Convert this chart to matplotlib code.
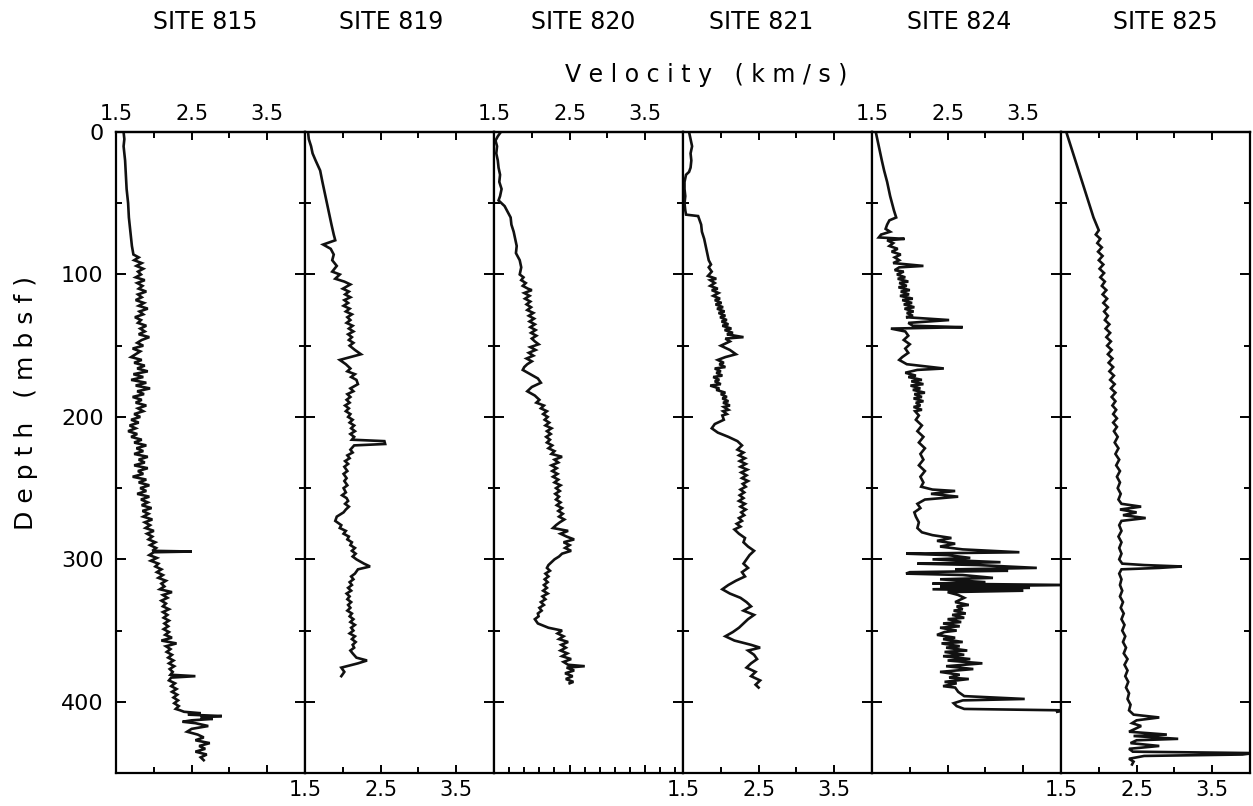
import matplotlib
matplotlib.use("Agg")
import matplotlib.pyplot as plt
from matplotlib.ticker import FixedLocator, NullFormatter

plt.rcParams['font.family'] = ['DejaVu Sans']

sites = ["SITE 815", "SITE 819", "SITE 820", "SITE 821", "SITE 824", "SITE 825"]

# ---- SITE 815 ----
d815 = [0, 5, 10, 20, 30, 40, 50, 60, 70, 80, 86,
        88, 90, 92, 94, 96, 98, 100, 102, 104, 106, 108, 110, 112, 114, 116, 118, 120, 122, 124, 126, 128, 130,
        132, 134, 136, 138, 140, 142, 144, 146, 148, 150, 152, 154, 156, 158, 160, 162, 164, 166, 168, 170, 172,
        174, 176, 178, 180, 182, 184, 186, 188, 190, 192, 194, 196, 198, 200, 202, 204, 206, 208, 210, 212, 214,
        216, 218, 220, 222, 224, 226, 228, 230, 232, 234, 236, 238, 240, 242, 244, 246, 248, 250, 252, 254, 256,
        258, 260, 262, 264, 266, 268, 270, 272, 274, 276, 278, 280, 282, 284, 286, 288, 290, 292,
        294, 294.5, 295, 297, 299, 301, 303, 305, 307, 309, 311, 313, 315, 317, 319, 321, 323, 325, 327, 329, 331,
        333, 335, 337, 339, 341, 343, 345, 347, 349, 351, 353, 355, 357, 359, 361, 363, 365, 367, 369, 371, 373,
        375, 377, 379, 381, 382, 383, 385, 387, 389, 391, 393, 395, 397, 399, 401, 403, 405, 406,
        407, 408, 409, 410, 411, 412, 413, 414, 415, 417, 419, 421, 423, 425, 427, 429, 431, 433, 435, 437, 439,
        441]
v815 = [1.60, 1.61, 1.60, 1.62, 1.63, 1.64, 1.66, 1.67, 1.69, 1.71, 1.73,
        1.80, 1.74, 1.84, 1.77, 1.86, 1.79, 1.83, 1.76, 1.88, 1.78, 1.85, 1.80, 1.90, 1.79, 1.84, 1.76, 1.87, 1.80,
        1.92, 1.81, 1.86, 1.75, 1.83, 1.79, 1.90, 1.82, 1.88, 1.80, 1.94, 1.84, 1.78, 1.86, 1.72, 1.82, 1.76, 1.70,
        1.84, 1.74, 1.88, 1.78, 1.92, 1.73, 1.86, 1.70, 1.90, 1.76, 1.95, 1.78, 1.87, 1.72, 1.84, 1.76, 1.90, 1.79,
        1.86, 1.74, 1.82, 1.70, 1.80, 1.68, 1.76, 1.66, 1.78, 1.70, 1.84, 1.74, 1.90, 1.77, 1.86, 1.74, 1.92, 1.80,
        1.88, 1.74, 1.92, 1.79, 1.86, 1.72, 1.90, 1.80, 1.94, 1.82, 1.90, 1.78, 1.94, 1.83, 1.92, 1.84, 1.97, 1.85,
        1.93, 1.86, 1.98, 1.88, 1.95, 1.89, 2.00, 1.91, 1.98, 1.93, 2.02, 1.95, 2.03,
        1.98, 2.50, 2.00, 1.94, 2.04, 1.96, 2.06, 2.02, 2.10, 2.04, 2.12, 2.06, 2.16, 2.10, 2.14, 2.08, 2.24, 2.12,
        2.18, 2.10, 2.16, 2.12, 2.20, 2.12, 2.18, 2.13, 2.20, 2.14, 2.19, 2.13, 2.20, 2.15, 2.24, 2.10, 2.30, 2.16,
        2.22, 2.17, 2.24, 2.19, 2.26, 2.20, 2.27, 2.21, 2.25, 2.22, 2.55, 2.23, 2.20, 2.28, 2.23, 2.30, 2.24, 2.31,
        2.26, 2.32, 2.27, 2.33, 2.29, 2.35,
        2.40, 2.62, 2.45, 2.90, 2.62, 2.78, 2.50, 2.38, 2.55, 2.72, 2.50, 2.44, 2.58, 2.66, 2.55, 2.74, 2.60, 2.68,
        2.55, 2.70, 2.62, 2.66]

# ---- SITE 819 ----
d819 = [0, 5, 10, 15, 20, 27, 35, 45, 55, 65, 72, 76, 79, 82, 86, 90, 94, 98, 100, 103, 105, 107, 110, 112, 114,
        116, 118, 120, 122, 124, 126, 128, 130, 132, 134, 136, 138, 140, 142, 144, 146, 148, 150, 153, 156, 158,
        160, 163, 166, 168, 170, 172, 174, 177, 180, 182, 184, 186, 188, 190, 192, 194, 196, 198, 200, 202, 204,
        206, 208, 210, 212, 214, 216, 217, 219, 220, 223, 225, 227, 229, 231, 233, 235, 238, 240, 243, 245, 248,
        250, 253, 255, 257, 259, 261, 263, 265, 267, 270, 273, 276, 278, 280, 282, 284, 286, 288, 290, 292, 294,
        296, 298, 300, 303, 305, 307, 310, 312, 314, 316, 318, 320, 322, 324, 326, 328, 330, 332, 334, 336, 338,
        340, 342, 344, 346, 348, 350, 352, 354, 356, 358, 360, 362, 364, 366, 369, 371, 373, 376, 379, 382]
v819 = [1.54, 1.55, 1.58, 1.60, 1.64, 1.70, 1.73, 1.77, 1.81, 1.85, 1.88, 1.90, 1.74, 1.84, 1.88, 1.86, 1.92, 1.86,
        1.96, 1.90, 2.02, 2.10, 2.00, 2.08, 2.03, 2.10, 2.02, 2.07, 2.01, 2.09, 2.04, 2.12, 2.06, 2.10, 2.05, 2.13,
        2.08, 2.14, 2.07, 2.12, 2.08, 2.14, 2.09, 2.16, 2.24, 2.10, 1.96, 2.04, 2.10, 2.06, 2.16, 2.11, 2.18, 2.20,
        2.10, 2.14, 2.06, 2.10, 2.05, 2.09, 2.03, 2.08, 2.04, 2.10, 2.07, 2.13, 2.09, 2.15, 2.11, 2.16, 2.10, 2.15,
        2.12, 2.55, 2.56, 2.15, 2.10, 2.13, 2.06, 2.09, 2.03, 2.07, 2.02, 2.06, 2.01, 2.05, 2.02, 2.06, 2.01, 2.04,
        1.99, 2.05, 2.07, 2.03, 2.08, 2.04, 2.01, 1.92, 1.90, 1.98, 1.96, 2.04, 2.01, 2.08, 2.06, 2.12, 2.10, 2.16,
        2.12, 2.17, 2.13, 2.18, 2.28, 2.36, 2.20, 2.16, 2.11, 2.14, 2.09, 2.12, 2.07, 2.11, 2.05, 2.09, 2.06, 2.11,
        2.07, 2.10, 2.06, 2.12, 2.09, 2.14, 2.10, 2.16, 2.11, 2.14, 2.09, 2.16, 2.12, 2.17, 2.13, 2.15, 2.10, 2.13,
        2.18, 2.32, 2.20, 1.98, 2.02, 1.98]

# ---- SITE 820 ----
d820 = [0, 3, 6, 10, 15, 20, 25, 30, 35, 40, 45, 48, 52, 56, 60, 65, 70, 75, 80, 85, 90, 95, 100, 102, 104, 106,
        108, 110, 111, 113, 115, 117, 119, 121, 123, 125, 127, 129, 131, 133, 135, 137, 139, 141, 143, 145, 147,
        149, 151, 153, 155, 157, 159, 161, 163, 165, 167, 170, 173, 176, 179, 182, 185, 188, 190, 192, 194, 196,
        198, 200, 202, 204, 206, 208, 210, 212, 214, 216, 218, 220, 222, 224, 226, 228, 230, 232, 234, 236, 238,
        240, 242, 244, 246, 248, 250, 252, 254, 256, 258, 260, 262, 264, 266, 268, 270, 272, 274, 276, 278, 280,
        282, 284, 286, 288, 290, 292, 294, 296, 298, 300, 302, 304, 306, 308, 310, 312, 314, 316, 318, 320, 322,
        324, 326, 328, 330, 332, 334, 336, 338, 340, 342, 345, 348, 350, 352, 354, 356, 358, 360, 362, 364, 366,
        368, 370, 372, 374, 375, 376, 378, 380, 382, 384, 386, 387]
v820 = [1.59, 1.55, 1.52, 1.54, 1.53, 1.55, 1.56, 1.58, 1.57, 1.60, 1.58, 1.56, 1.64, 1.68, 1.72, 1.73, 1.76, 1.78,
        1.80, 1.79, 1.84, 1.86, 1.84, 1.89, 1.86, 1.92, 1.88, 1.95, 2.00, 1.90, 1.97, 1.91, 1.98, 1.93, 1.99, 1.94,
        2.02, 1.96, 2.03, 1.97, 2.04, 1.98, 2.05, 1.99, 2.06, 2.00, 2.04, 2.09, 1.98, 2.05, 1.96, 2.02, 1.93, 2.00,
        1.94, 1.90, 1.88, 1.98, 2.08, 2.12, 2.00, 1.94, 2.04, 2.10, 2.06, 2.16, 2.12, 2.20, 2.15, 2.21, 2.17, 2.23,
        2.18, 2.26, 2.20, 2.25, 2.19, 2.24, 2.20, 2.27, 2.22, 2.30, 2.26, 2.40, 2.30, 2.35, 2.26, 2.33, 2.27, 2.34,
        2.28, 2.35, 2.30, 2.38, 2.32, 2.37, 2.31, 2.36, 2.32, 2.38, 2.33, 2.40, 2.35, 2.41, 2.36, 2.43, 2.37, 2.32,
        2.28, 2.48, 2.38, 2.46, 2.56, 2.42, 2.50, 2.44, 2.52, 2.40, 2.36, 2.30, 2.26, 2.22, 2.20, 2.24, 2.18, 2.22,
        2.17, 2.21, 2.16, 2.20, 2.15, 2.21, 2.14, 2.18, 2.12, 2.16, 2.10, 2.13, 2.08, 2.09, 2.04, 2.08,
        2.22, 2.40, 2.34, 2.42, 2.36, 2.48, 2.39, 2.45, 2.38, 2.47, 2.40, 2.52, 2.42, 2.48, 2.70, 2.46, 2.56, 2.44,
        2.54, 2.45, 2.55, 2.50]

# ---- SITE 821 ----
d821 = [0, 5, 10, 15, 20, 25, 28, 30, 35, 40, 45, 50, 55, 58, 59, 62, 65, 70, 75, 80, 85, 90, 93, 95, 98, 101,
        103, 104, 106, 108, 110, 111, 113, 115, 117, 118, 120, 121, 123, 124, 126, 127, 129, 130, 132, 133, 135,
        136, 138, 139, 141, 142, 144, 145, 147, 150, 153, 156, 158, 160, 162, 163, 165, 166, 168, 169, 171, 172,
        174, 175, 177, 178, 180, 181, 183, 184, 186, 187, 189, 190, 192, 193, 195, 196, 198, 199, 202, 205, 208,
        211, 214, 217, 220, 223, 225, 227, 229, 231, 233, 235, 237, 239, 241, 243, 245, 247, 249, 251, 253, 255,
        257, 259, 261, 263, 265, 267, 269, 271, 273, 275, 277, 279, 282, 285, 288, 291, 294, 297, 300, 303, 306,
        309, 312, 315, 318, 321, 324, 327, 330, 333, 336, 339, 342, 345, 348, 351, 354, 357, 360, 362, 364, 367,
        370, 373, 376, 379, 382, 385, 388, 390]
v821 = [1.58, 1.60, 1.62, 1.60, 1.61, 1.60, 1.58, 1.54, 1.52, 1.52, 1.53, 1.52, 1.53, 1.54, 1.70, 1.72, 1.74, 1.75,
        1.78, 1.80, 1.82, 1.84, 1.87, 1.84, 1.88, 1.83, 1.94, 1.86, 1.92, 1.86, 1.96, 1.88, 1.97, 1.90, 1.99, 1.92,
        2.01, 1.93, 2.03, 1.95, 2.05, 1.97, 2.06, 1.99, 2.08, 2.01, 2.10, 2.02, 2.14, 2.05, 2.16, 2.08, 2.30, 2.06,
        2.12, 2.00, 2.12, 2.20, 2.06, 1.96, 2.04, 1.98, 2.06, 1.92, 2.00, 1.94, 2.02, 1.90, 1.98, 1.92, 2.00, 1.86,
        1.98, 1.94, 2.06, 2.00, 2.08, 2.02, 2.10, 2.03, 2.12, 2.04, 2.10, 2.03, 2.08, 2.02, 2.04, 1.92, 1.88, 1.96,
        2.10, 2.22, 2.28, 2.22, 2.30, 2.24, 2.32, 2.25, 2.33, 2.26, 2.35, 2.27, 2.34, 2.28, 2.36, 2.29, 2.33, 2.26,
        2.31, 2.25, 2.30, 2.24, 2.32, 2.26, 2.33, 2.27, 2.31, 2.24, 2.28, 2.21, 2.26, 2.18, 2.24, 2.32, 2.30, 2.36,
        2.44, 2.38, 2.34, 2.30, 2.36, 2.28, 2.32, 2.20, 2.10, 2.02, 2.12, 2.26, 2.34, 2.40, 2.30, 2.44, 2.36, 2.30,
        2.24, 2.16, 2.06, 2.18, 2.40, 2.52, 2.36, 2.44, 2.48, 2.40, 2.34, 2.46, 2.40, 2.52, 2.46, 2.50]

# ---- SITE 824 ----
d824 = [0, 5, 10, 15, 20, 27, 35, 45, 55, 60, 62, 65, 68, 70, 72, 74, 75, 76, 78, 80, 82, 84, 86, 88, 90, 92, 94,
        95, 97, 98, 100, 102, 103, 105, 106, 108, 109, 111, 112, 114, 115, 117, 118, 120, 121, 123, 124, 126,
        127, 129, 130, 132, 134, 136, 137, 138, 140, 143, 146, 149, 152, 155, 158, 160, 163, 166, 167, 169, 171,
        172, 174, 175, 177, 178, 180, 181, 183, 184, 186, 187, 189, 190, 192, 193, 195, 196, 199, 202, 206, 210,
        214, 218, 222, 226, 230, 234, 238, 242, 246, 249, 251, 252, 254, 256, 258, 261, 264, 267, 270, 274, 278,
        281, 283, 285, 287, 289, 291, 293, 295, 296, 297, 299, 300, 302, 303, 304, 306, 307, 308, 309, 310, 311,
        313, 314, 316, 317, 318, 319, 320, 321, 322, 323, 325, 327, 330, 332, 333, 335, 336, 338, 339, 341, 342,
        344, 345, 347, 348, 350, 351, 353, 355, 356, 358, 359, 361, 362, 364, 365, 367, 368, 370, 371, 373, 375,
        377, 379, 381, 383, 384, 386, 387, 389, 390, 393, 396, 398, 399, 401, 403, 405, 406, 407]
v824 = [1.55, 1.57, 1.59, 1.61, 1.63, 1.66, 1.70, 1.74, 1.79, 1.82, 1.73, 1.70, 1.68, 1.74, 1.62, 1.59, 1.93, 1.70,
        1.78, 1.73, 1.84, 1.76, 1.88, 1.80, 1.86, 1.78, 2.18, 1.86, 1.80, 1.92, 1.83, 1.94, 1.84, 1.98, 1.86, 1.96,
        1.85, 2.00, 1.88, 1.99, 1.87, 2.04, 1.90, 2.03, 1.92, 2.06, 1.93, 2.05, 1.96, 2.04, 1.95, 2.52, 1.98, 2.04,
        2.70, 1.75, 1.94, 1.98, 1.92, 2.00, 1.94, 1.98, 1.90, 1.86, 1.96, 2.45, 2.10, 1.94, 2.08, 1.98, 2.16, 2.02,
        2.18, 2.01, 2.14, 2.04, 2.20, 2.06, 2.16, 2.05, 2.18, 2.08, 2.14, 2.05, 2.16, 2.07, 2.12, 2.08, 2.16, 2.10,
        2.18, 2.12, 2.20, 2.14, 2.18, 2.12, 2.20, 2.14, 2.18, 2.15, 2.30, 2.60, 2.28, 2.64, 2.20, 2.10, 2.14, 2.06,
        2.08, 2.12, 2.10, 2.16, 2.30, 2.55, 2.36, 2.60, 2.40, 2.70, 3.45, 1.95, 2.50, 2.80, 2.30, 3.20, 2.10, 2.90,
        3.68, 2.60, 3.30, 2.00, 1.95, 2.70, 3.10, 2.40, 3.00, 2.30, 4.10, 2.40, 3.59, 2.30, 3.50, 2.50, 2.64, 2.72,
        2.60, 2.78, 2.62, 2.70, 2.58, 2.74, 2.56, 2.72, 2.50, 2.68, 2.44, 2.66, 2.40, 2.62, 2.46, 2.36, 2.60, 2.44,
        2.70, 2.42, 2.66, 2.48, 2.76, 2.46, 2.72, 2.44, 2.80, 2.50, 2.96, 2.48, 2.84, 2.40, 2.66, 2.52, 2.78, 2.46,
        2.62, 2.44, 2.60, 2.64, 2.72, 3.52, 2.70, 2.58, 2.62, 2.72, 4.05, 3.95]

# ---- SITE 825 ----
d825 = [0, 10, 20, 30, 40, 50, 60, 69, 72, 75, 78, 81, 84, 87, 90, 93, 96, 99, 102, 105, 108, 111, 114, 117, 120,
        123, 126, 129, 132, 135, 138, 141, 144, 147, 150, 153, 156, 159, 162, 165, 168, 171, 174, 177, 180, 183,
        186, 189, 192, 195, 198, 201, 204, 207, 210, 214, 218, 222, 226, 230, 234, 238, 242, 246, 250, 254, 258,
        261, 263, 265, 267, 269, 271, 273, 276, 280, 284, 288, 292, 296, 300, 303, 304, 305, 306, 307, 310, 314,
        318, 322, 326, 330, 334, 338, 342, 346, 350, 354, 358, 362, 366, 370, 374, 378, 382, 386, 390, 394, 398,
        402, 406, 409, 411, 413, 415, 417, 419, 421, 423, 424, 426, 427, 429, 431, 433, 435, 436, 437, 438, 440,
        442, 444]
v825 = [1.57, 1.63, 1.69, 1.75, 1.81, 1.87, 1.93, 2.00, 1.96, 2.02, 1.98, 2.04, 1.99, 2.05, 2.00, 2.06, 2.01, 2.07,
        2.02, 2.08, 2.04, 2.10, 2.05, 2.11, 2.06, 2.12, 2.07, 2.12, 2.08, 2.14, 2.09, 2.15, 2.10, 2.16, 2.11, 2.17,
        2.12, 2.18, 2.13, 2.19, 2.14, 2.20, 2.15, 2.21, 2.16, 2.22, 2.17, 2.22, 2.18, 2.23, 2.19, 2.24, 2.19, 2.24,
        2.20, 2.25, 2.21, 2.26, 2.22, 2.27, 2.23, 2.28, 2.24, 2.28, 2.25, 2.29, 2.26, 2.30, 2.56, 2.28, 2.50, 2.32,
        2.62, 2.30, 2.27, 2.30, 2.26, 2.30, 2.27, 2.30, 2.27, 2.31, 2.60, 3.10, 2.80, 2.30, 2.27, 2.30, 2.28, 2.31,
        2.28, 2.32, 2.29, 2.33, 2.30, 2.34, 2.31, 2.35, 2.32, 2.36, 2.33, 2.38, 2.34, 2.38, 2.35, 2.39, 2.36, 2.40,
        2.38, 2.42, 2.40, 2.46, 2.80, 2.50, 2.44, 2.56, 2.48, 2.40, 2.90, 2.46, 3.05, 2.50, 2.42, 2.80, 2.40, 2.45,
        4.05, 3.90, 2.60, 2.40, 2.46, 2.44]

depths = [d815, d819, d820, d821, d824, d825]
vels = [v815, v819, v820, v821, v824, v825]

x_major = [1.5, 2.5, 3.5]
x_minor = [2.0, 3.0]
x_minor_820_bottom = [1.7, 1.9, 2.1, 2.3, 2.7, 2.9, 3.1, 3.3, 3.7, 3.9]
x_labels = ["1.5", "2.5", "3.5"]
y_major = [0, 100, 200, 300, 400]
y_minor = [50, 150, 250, 350]

fig = plt.figure(figsize=(12.53, 8.06), dpi=100)
fig.patch.set_facecolor('white')
axes = fig.subplots(1, 6, sharey=True)
fig.subplots_adjust(left=0.0926, right=0.9976, top=0.8362, bottom=0.0409, wspace=0)

title_x = [205, 391, 583, 761, 959, 1165]

for i, ax in enumerate(axes):
    ax.plot(vels[i], depths[i], color='#111111', lw=1.9, solid_joinstyle='miter')
    ax.set_xlim(1.5, 4.0)
    ax.set_ylim(450, 0)
    for s in ax.spines.values():
        s.set_linewidth(1.6)
    # bottom axis
    ax.xaxis.set_major_locator(FixedLocator(x_major if i != 2 else [2.5, 3.5]))
    ax.xaxis.set_minor_locator(FixedLocator(x_minor if i != 2 else x_minor_820_bottom))
    ax.xaxis.set_minor_formatter(NullFormatter())
    if i in (1, 3, 5):
        ax.set_xticklabels(x_labels)
    else:
        ax.set_xticklabels([""] * len(ax.get_xticks()))
    ax.tick_params(axis='x', which='major', direction='in', length=6, width=1.4,
                   labelsize=15, pad=5, bottom=True, top=False)
    ax.tick_params(axis='x', which='minor', direction='in', length=4, width=1.4,
                   bottom=True, top=False)
    # top axis
    sec = ax.secondary_xaxis('top')
    sec.xaxis.set_major_locator(FixedLocator(x_major))
    sec.xaxis.set_minor_locator(FixedLocator(x_minor))
    sec.xaxis.set_minor_formatter(NullFormatter())
    sec.spines['top'].set_linewidth(1.6)
    if i in (0, 2, 4):
        sec.set_xticklabels(x_labels)
    else:
        sec.set_xticklabels(["", "", ""])
    sec.tick_params(axis='x', which='major', direction='in', length=6, width=1.4,
                    labelsize=15, pad=6)
    sec.tick_params(axis='x', which='minor', direction='in', length=4, width=1.4)
    # y axis
    ax.yaxis.set_major_locator(FixedLocator(y_major))
    ax.yaxis.set_minor_locator(FixedLocator(y_minor))
    ax.tick_params(axis='y', which='major', direction='in', length=7, width=1.4,
                   left=True, right=True, labelsize=16, pad=9)
    ax.tick_params(axis='y', which='minor', direction='in', length=4, width=1.4,
                   left=True, right=True)
    if i > 0:
        ax.tick_params(axis='y', labelleft=False)
    fig.text(title_x[i] / 1253, 1 - 22 / 806, sites[i], ha='center', va='center', fontsize=17)

fig.text(706 / 1253, 1 - 75 / 806, "V e l o c i t y   ( k m / s )", ha='center', va='center', fontsize=17)
fig.text(26 / 1253, 0.50, "D e p t h   ( m b s f )", ha='center', va='center', rotation=90, fontsize=18)

fig.savefig("out.png", dpi=100, facecolor='white')
